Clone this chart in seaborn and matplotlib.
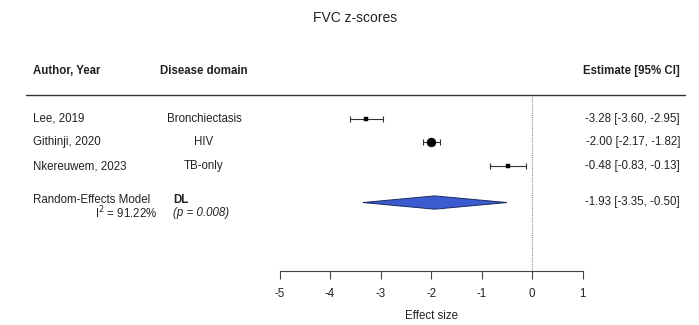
import matplotlib
matplotlib.use("Agg")
import matplotlib.pyplot as plt
import matplotlib.transforms as mtransforms
from matplotlib.patches import Polygon
import seaborn as sns
import pandas as pd

# ---- data ----
authors = ["Lee, 2019", "Githinji, 2020", "Nkereuwem, 2023"]
domains = ["Bronchiectasis", "HIV", "TB-only"]
estimates = [-3.28, -2.00, -0.48]
ci_low = [-3.60, -2.17, -0.83]
ci_high = [-2.95, -1.82, -0.13]
re_est = -1.93
re_low = -3.35
re_high = -0.50
i2_text = "91.22%"
p_text = "0.008"
xticks = [-5, -4, -3, -2, -1, 0, 1]

# ---- style ----
rows = [1, 2, 3]
re_row = 4.54
marker_sizes = [6, 42, 6]
marker_shapes = ["s", "o", "s"]
FS = 8.3
W, H = 699, 325

sns.set_theme(style="white")
plt.rcParams["font.family"] = ["Liberation Sans", "DejaVu Sans"]
plt.rcParams["text.color"] = "#222222"

fig = plt.figure(figsize=(W / 100, H / 100), dpi=100)
ax = fig.add_axes([279.5 / W, (H - 271) / H, 303.2 / W, 176 / H])
ax.set_xlim(-5, 1)
ax.set_ylim(7.43, 0)

df = pd.DataFrame({"author": authors, "domain": domains, "est": estimates,
                   "lo": ci_low, "hi": ci_high, "row": rows})

# CI lines
for e, lo, hi, r in zip(estimates, ci_low, ci_high, rows):
    ax.errorbar([e], [r], xerr=[[e - lo], [hi - e]], fmt="none",
                ecolor="#333333", elinewidth=0.8, capsize=2, capthick=0.8)
# point markers
for i in range(len(df)):
    sns.scatterplot(data=df.iloc[[i]], x="est", y="row", ax=ax,
                    marker=marker_shapes[i], s=marker_sizes[i],
                    color="black", edgecolor="black", linewidth=0.3, zorder=3)

# summary diamond
dh = 0.28
diamond = Polygon([(re_low, re_row), (re_est, re_row - dh), (re_high, re_row),
                   (re_est, re_row + dh)], closed=True,
                  facecolor="#3A5CD0", edgecolor="#1a2a60", linewidth=0.7, zorder=3)
ax.add_patch(diamond)

# reference line at 0
ax.axvline(0, color="#888888", ls=(0, (1, 1)), lw=0.8, zorder=1)

# axis style
for s in ["top", "left", "right"]:
    ax.spines[s].set_visible(False)
ax.spines["bottom"].set_color("#444444")
ax.spines["bottom"].set_linewidth(0.8)
ax.set_yticks([])
ax.set_xticks(xticks)
ax.set_xticklabels([str(t) for t in xticks], fontsize=FS)
ax.tick_params(axis="x", direction="out", length=5.5, width=0.8, color="#444444",
               pad=7, labelcolor="#222222", bottom=True)
ax.set_xlabel("Effect size", fontsize=FS, labelpad=7, color="#222222")
ax.set_ylabel("")

# text columns
tr = mtransforms.blended_transform_factory(fig.transFigure, ax.transData)
x_auth = 33 / W
x_dom = 204 / W
x_est = 680 / W

ax.text(x_auth, -1.01, "Author, Year", transform=tr, fontsize=FS, fontweight="bold",
        ha="left", va="center", clip_on=False)
ax.text(x_dom, -1.01, "Disease domain", transform=tr, fontsize=FS, fontweight="bold",
        ha="center", va="center", clip_on=False)
ax.text(x_est, -1.01, "Estimate [95% CI]", transform=tr, fontsize=FS, fontweight="bold",
        ha="right", va="center", clip_on=False)
ax.plot([26 / W, 685 / W], [0, 0], transform=tr, color="#333333", lw=1.0, clip_on=False)

for a, d, e, lo, hi, r in zip(authors, domains, estimates, ci_low, ci_high, rows):
    ax.text(x_auth, r, a, transform=tr, fontsize=FS, ha="left", va="center", clip_on=False)
    ax.text(x_dom, r, d, transform=tr, fontsize=FS, ha="center", va="center", clip_on=False)
    ax.text(x_est, r, f"{e:.2f} [{lo:.2f}, {hi:.2f}]", transform=tr, fontsize=FS,
            ha="right", va="center", clip_on=False)

ax.text(x_auth, 4.42, "Random-Effects Model", transform=tr, fontsize=FS,
        ha="left", va="center", clip_on=False)
ax.text(157 / W, 5.0, r"I$^2$ = " + i2_text, transform=tr, fontsize=FS,
        ha="right", va="center", clip_on=False)
ax.text(173 / W, 4.42, "DL", transform=tr, fontsize=FS, fontweight="bold",
        ha="left", va="center", clip_on=False)
ax.text(173 / W, 5.0, f"(p = {p_text})", transform=tr, fontsize=FS, style="italic",
        ha="left", va="center", clip_on=False)
ax.text(x_est, 4.52, f"{re_est:.2f} [{re_low:.2f}, {re_high:.2f}]", transform=tr,
        fontsize=FS, ha="right", va="center", clip_on=False)

fig.text(355 / W, 1 - 18 / H, "FVC z-scores", fontsize=10, ha="center", va="center")

fig.savefig("out.png", dpi=100)
